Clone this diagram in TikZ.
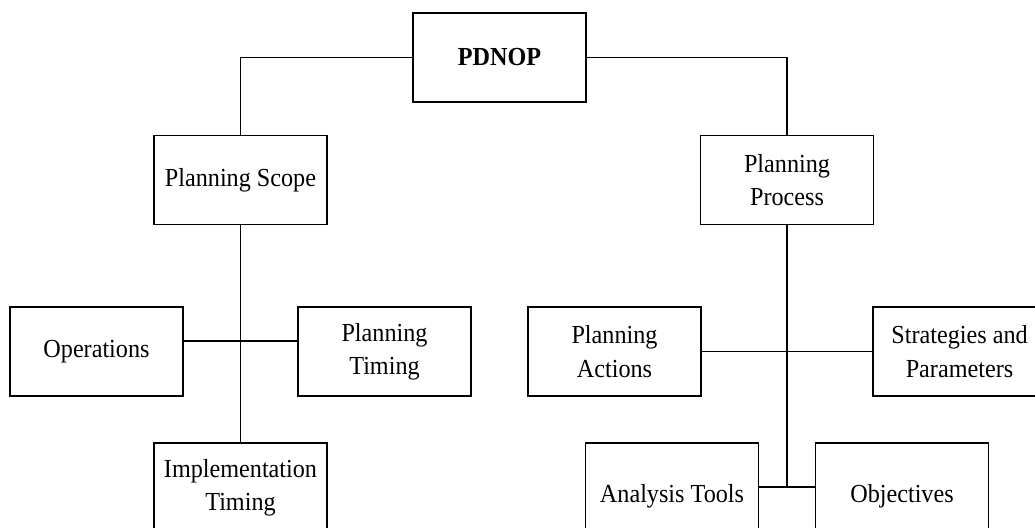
\documentclass[tikz,border=0pt]{standalone}
\usepackage{fontspec}
\setmainfont{Liberation Serif}[FakeStretch=0.93]
\usepackage{tikz}
\usetikzlibrary{positioning}

\begin{document}
\begin{tikzpicture}[x=0.75pt, y=-0.75pt,
    box/.style={draw, line width=1.1pt, shape=rectangle, align=center,
        minimum width=129.75pt, minimum height=66.75pt, inner sep=2pt,
        font=\fontsize{19.5}{25}\selectfont},
    tall/.style={box, minimum height=79.5pt},
    link/.style={line width=1pt}]
    \useasboundingbox (0,0) rectangle (1035,528);

    \node[box, font=\fontsize{19.5}{25}\selectfont\bfseries](PD) at (499.5,57.5){PDNOP};

    \node[box](PS) at (240.5,180){Planning Scope};
    \node[box](PP) at (787,180){Planning\\Process};

    \node[box](OP) at (96.5,351.5){Operations};
    \node[box](PT) at (384.5,351.5){Planning\\Timing};
    \node[box](IT) at (240.5,487.5){Implementation\\Timing};

    \node[box](PA) at (614.5,351.5){Planning\\Actions};
    \node[box](SP) at (959.5,351.5){Strategies and\\Parameters};
    \node[tall](AT) at (672,496){Analysis Tools};
    \node[tall](OB) at (902,496){Objectives};

    \coordinate (jl) at (240.5,341);
    \coordinate (jr) at (787,487);

    \draw[link] (PD.west) -| (PS.north);
    \draw[link] (PD.east) -| (PP.north);

    \draw[link] (PS.south) -- (IT.north);
    \draw[link] (OP.east |- jl) -- (PT.west |- jl);

    \draw[link] (PP.south) -- (jr);
    \draw[link] (PA) -- (SP);
    \draw[link] (AT.east |- jr) -- (OB.west |- jr);
\end{tikzpicture}
\end{document}
